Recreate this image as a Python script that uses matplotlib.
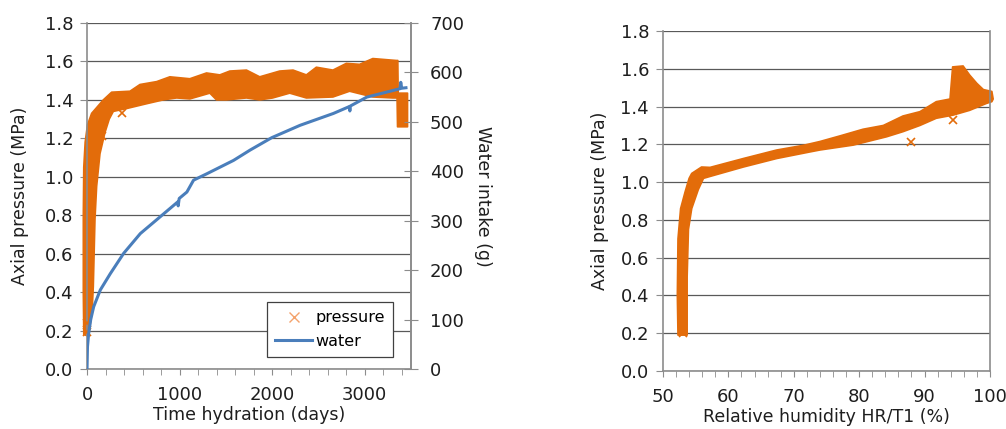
import matplotlib
matplotlib.use("Agg")
import matplotlib.pyplot as plt
from matplotlib.ticker import MultipleLocator
from matplotlib.lines import Line2D

plt.rcParams["font.family"] = ["DejaVu Sans"]

ORANGE = "#e36c0a"
BLUE = "#4a7ebb"
GRID = "#595959"
SPINE = "#8c8c8c"
TXT = "#1e1e1e"

# --- left panel: outline of the dense pressure cloud vs time (days, MPa) ---
t_up = [-35, -40, -40, -35, -20, 5, 50, 104, 176, 266, 464, 572, 752, 895,
        1111, 1291, 1435, 1543, 1723, 1866, 2082, 2226, 2370, 2478, 2657, 2802,
        2945, 3088, 3341, 3358, 3362, 3463]
p_up = [0.18, 0.40, 0.80, 1.05, 1.18, 1.27, 1.33, 1.36, 1.40, 1.44, 1.445,
        1.48, 1.495, 1.52, 1.51, 1.54, 1.53, 1.55, 1.555, 1.52, 1.55, 1.555,
        1.53, 1.57, 1.555, 1.59, 1.585, 1.615, 1.605, 1.605, 1.435, 1.435]
t_lo = [15, 55, 68, 86, 104, 140, 194, 240, 284, 428, 644, 823, 968, 1111,
        1327, 1399, 1507, 1723, 1866, 2006, 2190, 2370, 2657, 2837, 3088, 3305,
        3350, 3355, 3463]
p_lo = [0.17, 0.30, 0.43, 0.78, 0.95, 1.12, 1.23, 1.30, 1.34, 1.355, 1.38,
        1.40, 1.41, 1.405, 1.435, 1.40, 1.40, 1.41, 1.40, 1.41, 1.435, 1.41,
        1.415, 1.445, 1.415, 1.41, 1.41, 1.26, 1.26]

t_out = [0, 5, 165, 380]
p_out = [0.19, 0.24, 1.21, 1.33]

t_w = [0, 5, 18, 40, 72, 144, 252, 396, 576, 791, 980, 985, 996, 1079, 1151,
       1295, 1583, 1763, 1996, 2302, 2662, 2835, 2840, 2845, 3022, 3381, 3390,
       3400, 3446]
water = [0, 45, 72, 100, 126, 160, 193, 234, 274, 308, 338, 330, 345, 358, 382,
         395, 422, 443, 468, 493, 517, 531, 522, 532, 550, 567, 580, 568, 569]

# --- right panel: outline of pressure cloud vs relative humidity (%, MPa) ---
rh_up = [52.3, 52.2, 52.3, 52.7, 53.4, 54.0, 54.4, 55.9, 57.2, 62.3, 67.4,
         71.5, 74.0, 77.1, 80.6, 83.7, 86.7, 89.3, 91.8, 93.9, 94.3, 95.9, 96.9,
         98.0, 99.0, 100.3, 100.5]
p_rh_up = [0.19, 0.40, 0.70, 0.86, 0.95, 1.02, 1.046, 1.08, 1.078, 1.125,
           1.17, 1.195, 1.215, 1.245, 1.28, 1.30, 1.35, 1.373, 1.426, 1.44,
           1.61, 1.615, 1.567, 1.523, 1.49, 1.48, 1.44]
rh_lo = [53.7, 53.7, 53.9, 54.4, 55.4, 56.2, 57.2, 62.3, 67.4, 72.5, 74.0,
         79.1, 84.2, 86.7, 89.3, 91.8, 94.4, 96.9, 99.5, 100.3]
p_rh_lo = [0.19, 0.50, 0.75, 0.86, 0.96, 1.02, 1.03, 1.08, 1.125, 1.16, 1.17,
           1.196, 1.24, 1.267, 1.30, 1.338, 1.355, 1.38, 1.417, 1.426]

rh_out = [53.0, 53.1, 88.0, 94.3]
prh_out = [0.20, 0.23, 1.21, 1.33]


def style(ax, xmajor, xminor):
    ax.set_ylim(0, 1.8)
    ax.yaxis.set_major_locator(MultipleLocator(0.2))
    ax.yaxis.set_major_formatter(plt.FuncFormatter(lambda v, _: f"{v:.1f}"))
    ax.xaxis.set_major_locator(MultipleLocator(xmajor))
    ax.xaxis.set_minor_locator(MultipleLocator(xminor))
    ax.grid(axis="y", color=GRID, lw=0.9)
    ax.set_axisbelow(True)
    ax.spines["top"].set_visible(False)
    for s in ("left", "bottom", "right"):
        ax.spines[s].set_color(SPINE)
        ax.spines[s].set_linewidth(1.2)
    ax.tick_params(axis="both", which="both", color=SPINE, labelsize=13,
                   labelcolor=TXT)
    ax.tick_params(axis="y", length=5, pad=5)
    ax.tick_params(axis="x", which="both", length=4, pad=8)


def cloud(ax, xu, yu, xl, yl):
    xs = list(xu) + list(reversed(xl))
    ys = list(yu) + list(reversed(yl))
    ax.fill(xs, ys, color=ORANGE, lw=1.2, joinstyle="round", clip_on=False,
            zorder=2)


fig = plt.figure(figsize=(10.06, 4.29), dpi=100)

# left
ax1 = fig.add_axes([0.0865, 0.1399, 0.322, 0.8065])
style(ax1, 1000, 200)
ax1.set_xlim(0, 3500)
cloud(ax1, t_up, p_up, t_lo, p_lo)
ax1.plot(t_out, p_out, ls="none", marker="x", ms=6, mew=1.2, color=ORANGE,
         clip_on=False, zorder=3)
ax1.set_xlabel("Time hydration (days)", fontsize=12.5, color=TXT, labelpad=2)
ax1.set_ylabel("Axial pressure (MPa)", fontsize=12.5, color=TXT, labelpad=11)

ax2 = ax1.twinx()
ax2.set_ylim(0, 700)
ax2.yaxis.set_major_locator(MultipleLocator(100))
ax2.plot(t_w, water, color=BLUE, lw=2.2)
for s in ("top", "left", "bottom"):
    ax2.spines[s].set_visible(False)
ax2.spines["right"].set_color(SPINE)
ax2.spines["right"].set_linewidth(1.2)
ax2.tick_params(axis="y", direction="inout", length=9.5, pad=9, color=SPINE,
                labelsize=13, labelcolor=TXT)
ax2.set_ylabel("Water intake (g)", fontsize=12.5, color=TXT, rotation=-90,
               labelpad=20)

handles = [Line2D([], [], ls="none", marker="x", ms=7, mew=1, color="#f4a36c"),
           Line2D([], [], color=BLUE, lw=2.2)]
leg = ax2.legend(handles, ["pressure", "water"], loc="lower right",
                 bbox_to_anchor=(0.944, 0.035), fontsize=11.5, frameon=True,
                 fancybox=False, edgecolor="#404040", framealpha=1,
                 borderpad=0.5, handlelength=2.3, handletextpad=0.2,
                 labelspacing=0.55, borderaxespad=0)
leg.get_frame().set_linewidth(0.9)

# right
ax3 = fig.add_axes([0.659, 0.1352, 0.325, 0.7925])
style(ax3, 10, 2)
ax3.set_xlim(50, 100)
cloud(ax3, rh_up, p_rh_up, rh_lo, p_rh_lo)
ax3.plot(rh_out, prh_out, ls="none", marker="x", ms=6, mew=1.2, color=ORANGE,
         zorder=3)
ax3.set_xlabel("Relative humidity HR/T1 (%)", fontsize=12.5, color=TXT,
               labelpad=2)
ax3.set_ylabel("Axial pressure (MPa)", fontsize=12.5, color=TXT, labelpad=8)

fig.savefig("out.png", dpi=100)
